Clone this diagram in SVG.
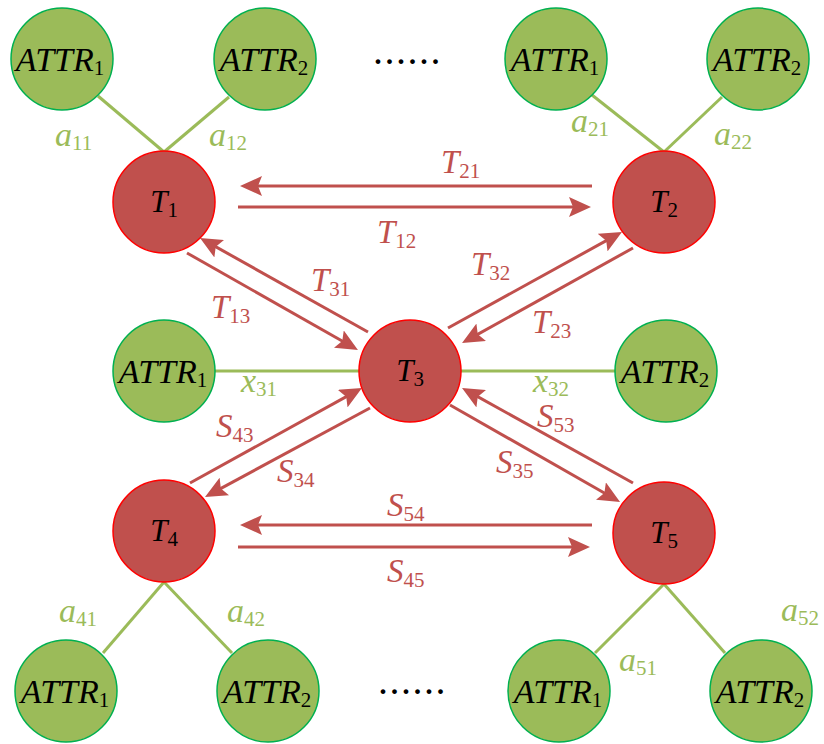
<svg xmlns="http://www.w3.org/2000/svg" width="824" height="744" viewBox="0 0 824 744" font-family="'Liberation Serif', 'Times New Roman', 'DejaVu Serif', serif">
<style>
.attr{fill:#9BBB59;stroke:#00B050;stroke-width:1.5}
.task{fill:#C0504D;stroke:#FF0000;stroke-width:1.5}
.gl{stroke:#9BBB59;stroke-width:3;fill:none}
.rl{stroke:#C0504D;stroke-width:3;fill:none;marker-end:url(#ah)}
.it{font-style:italic}
.nl{font-size:34px;fill:#000;text-anchor:middle}
.tl{font-size:31px;fill:#000;text-anchor:middle}
.el{font-size:33px;fill:#C0504D}
.al{font-size:34px;fill:#9BBB59}
.sub{font-style:normal;font-size:21px}
.dots{font-size:40px;font-style:normal;fill:#000;letter-spacing:1.5px}
</style>
<defs>
<marker id="ah" markerUnits="userSpaceOnUse" viewBox="0 0 22 20" refX="17" refY="10" markerWidth="22" markerHeight="20" orient="auto">
<path d="M0,0 L22,10 L0,20 L4,10 Z" fill="#C0504D"/>
</marker>
</defs>
<g id="connectors">
<line class="gl" x1="164" y1="152" x2="98" y2="96"/>
<line class="gl" x1="164" y1="152" x2="229" y2="97"/>
<line class="gl" x1="664" y1="152" x2="592" y2="95"/>
<line class="gl" x1="664" y1="152" x2="722" y2="97"/>
<line class="gl" x1="215" y1="371" x2="359" y2="371"/>
<line class="gl" x1="461" y1="371" x2="616" y2="371"/>
<line class="gl" x1="164" y1="582" x2="103" y2="653"/>
<line class="gl" x1="164" y1="582" x2="232" y2="653"/>
<line class="gl" x1="664" y1="584" x2="595" y2="653"/>
<line class="gl" x1="664" y1="584" x2="725" y2="653"/>
<line class="rl" x1="592" y1="186" x2="245" y2="186"/>
<line class="rl" x1="238" y1="207" x2="586" y2="207"/>
<line class="rl" x1="368" y1="332" x2="204.4" y2="240.4"/>
<line class="rl" x1="187" y1="253" x2="353.6" y2="347.5"/>
<line class="rl" x1="448" y1="328" x2="617.6" y2="234.4"/>
<line class="rl" x1="633" y1="248" x2="466.4" y2="340.6"/>
<line class="rl" x1="190" y1="483" x2="357.6" y2="390.4"/>
<line class="rl" x1="370" y1="408" x2="209.4" y2="494.6"/>
<line class="rl" x1="633" y1="483" x2="466.4" y2="390.4"/>
<line class="rl" x1="450" y1="405" x2="615.7" y2="499.5"/>
<line class="rl" x1="592" y1="525" x2="245" y2="525"/>
<line class="rl" x1="238" y1="547" x2="585" y2="547"/>
</g>
<g id="connector-labels">
<text class="al it" x="55" y="146">a<tspan class="sub" dy="4">11</tspan></text>
<text class="al it" x="209" y="146">a<tspan class="sub" dy="4">12</tspan></text>
<text class="al it" x="571" y="132">a<tspan class="sub" dy="4">21</tspan></text>
<text class="al it" x="714" y="145">a<tspan class="sub" dy="4">22</tspan></text>
<text class="al it" x="241" y="392">x<tspan class="sub" dy="4">31</tspan></text>
<text class="al it" x="533" y="392">x<tspan class="sub" dy="4">32</tspan></text>
<text class="al it" x="59" y="622">a<tspan class="sub" dy="4">41</tspan></text>
<text class="al it" x="227" y="622">a<tspan class="sub" dy="4">42</tspan></text>
<text class="al it" x="619" y="671">a<tspan class="sub" dy="4">51</tspan></text>
<text class="al it" x="781" y="621">a<tspan class="sub" dy="4">52</tspan></text>
<text class="el it" x="441" y="173">T<tspan class="sub" dy="5">21</tspan></text>
<text class="el it" x="377" y="243">T<tspan class="sub" dy="5">12</tspan></text>
<text class="el it" x="311" y="291">T<tspan class="sub" dy="5">31</tspan></text>
<text class="el it" x="211" y="318">T<tspan class="sub" dy="5">13</tspan></text>
<text class="el it" x="471" y="275">T<tspan class="sub" dy="5">32</tspan></text>
<text class="el it" x="532" y="333">T<tspan class="sub" dy="5">23</tspan></text>
<text class="el it" x="216" y="437">S<tspan class="sub" dy="5">43</tspan></text>
<text class="el it" x="277" y="482">S<tspan class="sub" dy="5">34</tspan></text>
<text class="el it" x="537" y="427">S<tspan class="sub" dy="5">53</tspan></text>
<text class="el it" x="496" y="473">S<tspan class="sub" dy="5">35</tspan></text>
<text class="el it" x="387" y="516">S<tspan class="sub" dy="5">54</tspan></text>
<text class="el it" x="387" y="582">S<tspan class="sub" dy="5">45</tspan></text>
</g>
<g id="T1"><circle class="task" cx="164" cy="202" r="51"/><text class="tl it" x="164" y="212">T<tspan class="sub" font-size="20" dy="5">1</tspan></text></g>
<g id="T2"><circle class="task" cx="664" cy="202" r="51"/><text class="tl it" x="664" y="212">T<tspan class="sub" font-size="20" dy="5">2</tspan></text></g>
<g id="T3"><circle class="task" cx="410" cy="371" r="51"/><text class="tl it" x="410" y="381">T<tspan class="sub" font-size="20" dy="5">3</tspan></text></g>
<g id="T4"><circle class="task" cx="164" cy="531" r="51"/><text class="tl it" x="164" y="541">T<tspan class="sub" font-size="20" dy="5">4</tspan></text></g>
<g id="T5"><circle class="task" cx="664" cy="533" r="51"/><text class="tl it" x="664" y="543">T<tspan class="sub" font-size="20" dy="5">5</tspan></text></g>
<g id="A11"><circle class="attr" cx="62" cy="59" r="51"/><text class="nl it" x="60" y="71">ATTR<tspan class="sub" dy="4">1</tspan></text></g>
<g id="A12"><circle class="attr" cx="265" cy="59" r="51"/><text class="nl it" x="264" y="71">ATTR<tspan class="sub" dy="4">2</tspan></text></g>
<g id="A21"><circle class="attr" cx="556" cy="59" r="51"/><text class="nl it" x="555" y="71">ATTR<tspan class="sub" dy="4">1</tspan></text></g>
<g id="A22"><circle class="attr" cx="758" cy="59" r="51"/><text class="nl it" x="757" y="71">ATTR<tspan class="sub" dy="4">2</tspan></text></g>
<g id="A31"><circle class="attr" cx="164" cy="371" r="51"/><text class="nl it" x="163" y="383">ATTR<tspan class="sub" dy="4">1</tspan></text></g>
<g id="A32"><circle class="attr" cx="666" cy="371" r="51"/><text class="nl it" x="665" y="383">ATTR<tspan class="sub" dy="4">2</tspan></text></g>
<g id="A41"><circle class="attr" cx="66" cy="691" r="51"/><text class="nl it" x="65" y="703">ATTR<tspan class="sub" dy="4">1</tspan></text></g>
<g id="A42"><circle class="attr" cx="268" cy="691" r="51"/><text class="nl it" x="267" y="703">ATTR<tspan class="sub" dy="4">2</tspan></text></g>
<g id="A51"><circle class="attr" cx="559" cy="691" r="51"/><text class="nl it" x="558" y="703">ATTR<tspan class="sub" dy="4">1</tspan></text></g>
<g id="A52"><circle class="attr" cx="761" cy="691" r="51"/><text class="nl it" x="760" y="703">ATTR<tspan class="sub" dy="4">2</tspan></text></g>
<g id="ellipsis-top"><text class="dots" x="373" y="64">......</text></g>
<g id="ellipsis-bottom"><text class="dots" x="378" y="694">......</text></g>
</svg>
